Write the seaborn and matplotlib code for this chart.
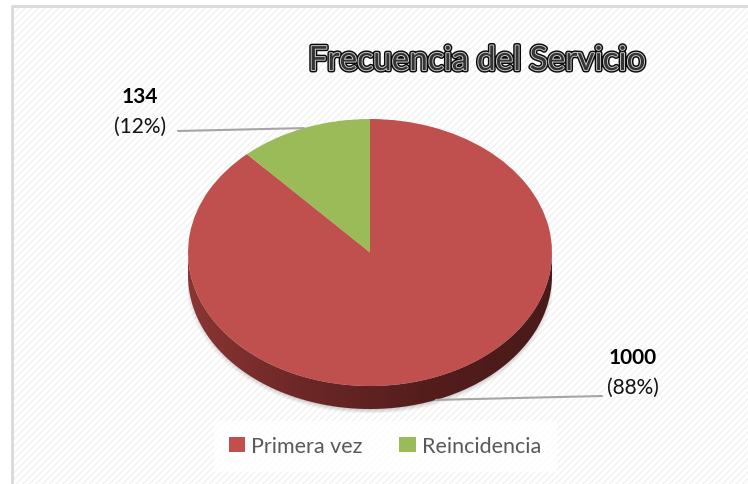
import numpy as np
import seaborn as sns
import matplotlib.pyplot as plt
import matplotlib.patheffects as pe
from matplotlib.patches import Rectangle, Polygon, Ellipse
from matplotlib.colors import LinearSegmentedColormap

# Data
categories = ["Primera vez", "Reincidencia"]
counts = [1000, 134]
colors = ["#C0504D", "#9BBB59"]
title = "Frecuencia del Servicio"

sns.set_theme(style="white")
plt.rcParams['font.family'] = ['Lato', 'DejaVu Sans']

W, H = 748, 485
fig = plt.figure(figsize=(W / 100, H / 100), dpi=100)
fig.patch.set_facecolor("white")

# background with faint diagonal texture + chart border
bg = fig.add_axes([0, 0, 1, 1])
bg.set_xlim(0, W)
bg.set_ylim(H, 0)
bg.axis("off")
bg.add_patch(Rectangle((12, 7), W, H, facecolor="white", edgecolor="#f1f1f1",
                       hatch="/////", linewidth=0))
bg.plot([12, 12, W], [H, 7, 7], color="#d9d9d9", lw=2)

# pie geometry (pixels): top face x 188..552, y 120..387, depth ~23
px_l, px_r, px_t, depth_px = 188, 552, 120, 23
ry = 133.5
depth = depth_px / ry
ax = fig.add_axes([px_l / W, (H - (px_t + 2 * ry + depth_px + 4)) / H,
                   (px_r - px_l) / W, (2 * ry + depth_px + 4) / H])
ax.axis("off")

# soft shadow under the pie
for i, a in enumerate([0.04, 0.05, 0.06, 0.07]):
    ax.add_patch(Ellipse((0.0, -depth - 0.02), 2.03 - i * 0.02, 2.03 - i * 0.02,
                         facecolor="#000000", alpha=a, lw=0, zorder=0))

# side wall with horizontal gradient
th = np.linspace(np.pi, 2 * np.pi, 200)
top_edge = np.column_stack([np.cos(th), np.sin(th)])
bot_edge = np.column_stack([np.cos(th[::-1]), np.sin(th[::-1]) - depth])
side = Polygon(np.vstack([top_edge, bot_edge]), closed=True, facecolor="none",
               edgecolor="none")
ax.add_patch(side)
grad = np.linspace(0, 1, 256).reshape(1, -1)
cmap = LinearSegmentedColormap.from_list("side", ["#8a3533", "#6a2726", "#531d1c", "#4a1a1a"])
im = ax.imshow(grad, extent=[-1, 1, -1 - depth, 0], aspect="auto", cmap=cmap,
               zorder=1, interpolation="bilinear")
im.set_clip_path(side)

# top face
wedges, _ = ax.pie(counts, colors=colors, startangle=90, counterclock=False,
                   radius=1.0, center=(0, 0), wedgeprops=dict(linewidth=0))
for w in wedges:
    w.set_zorder(2)
ax.set_xlim(-1, 1)
ax.set_ylim(-1 - depth - 4 / ry, 1)
ax.set_aspect("auto")

# data labels
total = sum(counts)
label_pos = {1: (140, 97, 178, 132), 0: (633, 358, 602, 397)}
for i, wdg in enumerate(wedges):
    mid = np.deg2rad((wdg.theta1 + wdg.theta2) / 2)
    tx, ty, lx, ly = label_pos[i]
    pct = counts[i] / total * 100
    bg.text(tx, ty, f"{counts[i]}", ha="center", va="center", fontsize=15,
            fontweight="bold", color="black")
    bg.text(tx, ty + 30, f"({pct:.0f}%)", ha="center", va="center", fontsize=15,
            color="#111111")
    yoff = -depth if np.sin(mid) < 0 else 0
    ax.annotate("", xy=(np.cos(mid), np.sin(mid) + yoff), xycoords="data",
                xytext=(lx, H - ly), textcoords="figure pixels",
                arrowprops=dict(arrowstyle="-", color="#a6a6a6", lw=1.5,
                                shrinkA=0, shrinkB=0), zorder=5)

# title
bg.text(477, 62, title, ha="center", va="center", fontsize=24, color="#333333",
        path_effects=[pe.Stroke(linewidth=3.5, foreground="#0a0a0a"),
                      pe.Stroke(linewidth=1.4, foreground="#c8c8c8"),
                      pe.Normal()])

# legend
leg = fig.legend(wedges, categories, loc="center", ncol=2,
                 bbox_to_anchor=(385 / W, 1 - 447 / H), frameon=True,
                 fontsize=15.5, handlelength=0.75, handleheight=0.75,
                 columnspacing=1.7, handletextpad=0.3, borderpad=0.7,
                 fancybox=False)
leg.get_frame().set_facecolor("white")
leg.get_frame().set_edgecolor("white")
for t in leg.get_texts():
    t.set_color("#595959")

fig.savefig("out.png", dpi=100)
